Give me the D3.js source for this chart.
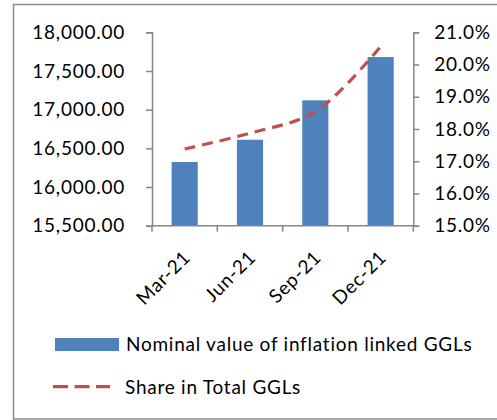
<!DOCTYPE html>
<html><head><meta charset="utf-8">
<script src="https://cdn.jsdelivr.net/npm/d3@7"></script>
<style>html,body{margin:0;padding:0;background:#fff;}svg{display:block;}</style>
</head><body>
<svg id="c" width="497" height="420"></svg>
<script>
const categories = ["Mar-21", "Jun-21", "Sep-21", "Dec-21"];
const nominalValues = [16323, 16611, 17120, 17680];
const sharePct = [17.38, 17.87, 18.54, 20.56];
const leftTicks = [15500, 16000, 16500, 17000, 17500, 18000];
const rightTicks = [15, 16, 17, 18, 19, 20, 21];
const seriesNames = ["Nominal value of inflation linked GGLs", "Share in Total GGLs"];

const svg = d3.select("#c");
const FONT = "Lato, 'Open Sans', sans-serif";
const FS = 19;
const LS = "0.75px";
const axisColor = "#868686";
const barColor = "#4F81BD";
const lineColor = "#C0504D";

svg.append("rect").attr("x", 13.5).attr("y", 4.5).attr("width", 520).attr("height", 414.5)
  .attr("fill", "none").attr("stroke", "#8c8c8c").attr("stroke-width", 1.5);

const L = 152, R = 413.3, T = 32.3, B = 225.7;
const x = d3.scaleBand().domain(categories).range([L, R]).paddingInner(0.6).paddingOuter(0.3);
const xb = d3.scaleBand().domain(categories).range([L, R]);
const yL = d3.scaleLinear().domain([15500, 18000]).range([B, T]);
const yR = d3.scaleLinear().domain([15, 21]).range([B, T]);

// bars
svg.append("g").selectAll("rect").data(categories).join("rect")
  .attr("x", d => x(d)).attr("width", x.bandwidth())
  .attr("y", (d, i) => yL(nominalValues[i]))
  .attr("height", (d, i) => B - yL(nominalValues[i]))
  .attr("fill", barColor);

// left axis
const gL = svg.append("g").attr("transform", `translate(${L},0)`)
  .call(d3.axisLeft(yL).tickValues(leftTicks).tickSize(6).tickPadding(21)
    .tickFormat(d => d3.format(",.2f")(d)));
// right axis
const gR = svg.append("g").attr("transform", `translate(${R},0)`)
  .call(d3.axisRight(yR).tickValues(rightTicks).tickSize(6).tickPadding(15)
    .tickFormat(d => d.toFixed(1) + "%"));
// bottom axis
const gB = svg.append("g").attr("transform", `translate(0,${B})`)
  .call(d3.axisBottom(xb).tickSize(0).tickFormat(""));
const bounds = categories.map(c => xb(c)).concat([R]);
gB.selectAll("line.bt").data(bounds).join("line").attr("class", "bt")
  .attr("x1", d => d).attr("x2", d => d).attr("y1", 0).attr("y2", 6)
  .attr("stroke", axisColor).attr("stroke-width", 1.5);

[gL, gR, gB].forEach(g => {
  g.select(".domain").attr("stroke", axisColor).attr("stroke-width", 1.5);
  g.selectAll(".tick line").attr("stroke", axisColor).attr("stroke-width", 1.5);
  g.selectAll("text").attr("font-family", FONT).attr("font-size", FS).attr("fill", "#000")
    .attr("letter-spacing", LS);
});
gB.select(".domain").attr("d", `M${L},0H${R}`);

// rotated category labels
svg.append("g").selectAll("text").data(categories).join("text")
  .attr("transform", d => `translate(${xb(d) + xb.bandwidth() / 2 + 7},${B + 33}) rotate(-45)`)
  .attr("text-anchor", "end")
  .attr("font-family", FONT).attr("font-size", FS).attr("fill", "#000")
  .attr("letter-spacing", LS)
  .text(d => d);

// line
const line = d3.line()
  .x((d, i) => xb(categories[i]) + xb.bandwidth() / 2)
  .y(d => yR(d))
  .curve(d3.curveCatmullRom.alpha(0.5));
svg.append("path").datum(sharePct).attr("d", line)
  .attr("fill", "none").attr("stroke", lineColor).attr("stroke-width", 3.2)
  .attr("stroke-dasharray", "11,7");

// legend
const lg = svg.append("g");
lg.append("rect").attr("x", 55).attr("y", 338).attr("width", 64).attr("height", 13).attr("fill", barColor);
lg.append("text").attr("x", 126).attr("y", 351).attr("font-family", FONT).attr("font-size", FS)
  .attr("letter-spacing", LS).attr("fill", "#000").text(seriesNames[0]);
lg.append("line").attr("x1", 53).attr("x2", 110).attr("y1", 386.7).attr("y2", 386.7)
  .attr("stroke", lineColor).attr("stroke-width", 3.2).attr("stroke-dasharray", "15,6.5");
lg.append("text").attr("x", 125).attr("y", 393.5).attr("font-family", FONT).attr("font-size", FS)
  .attr("letter-spacing", LS).attr("fill", "#000").text(seriesNames[1]);
</script>
</body></html>
